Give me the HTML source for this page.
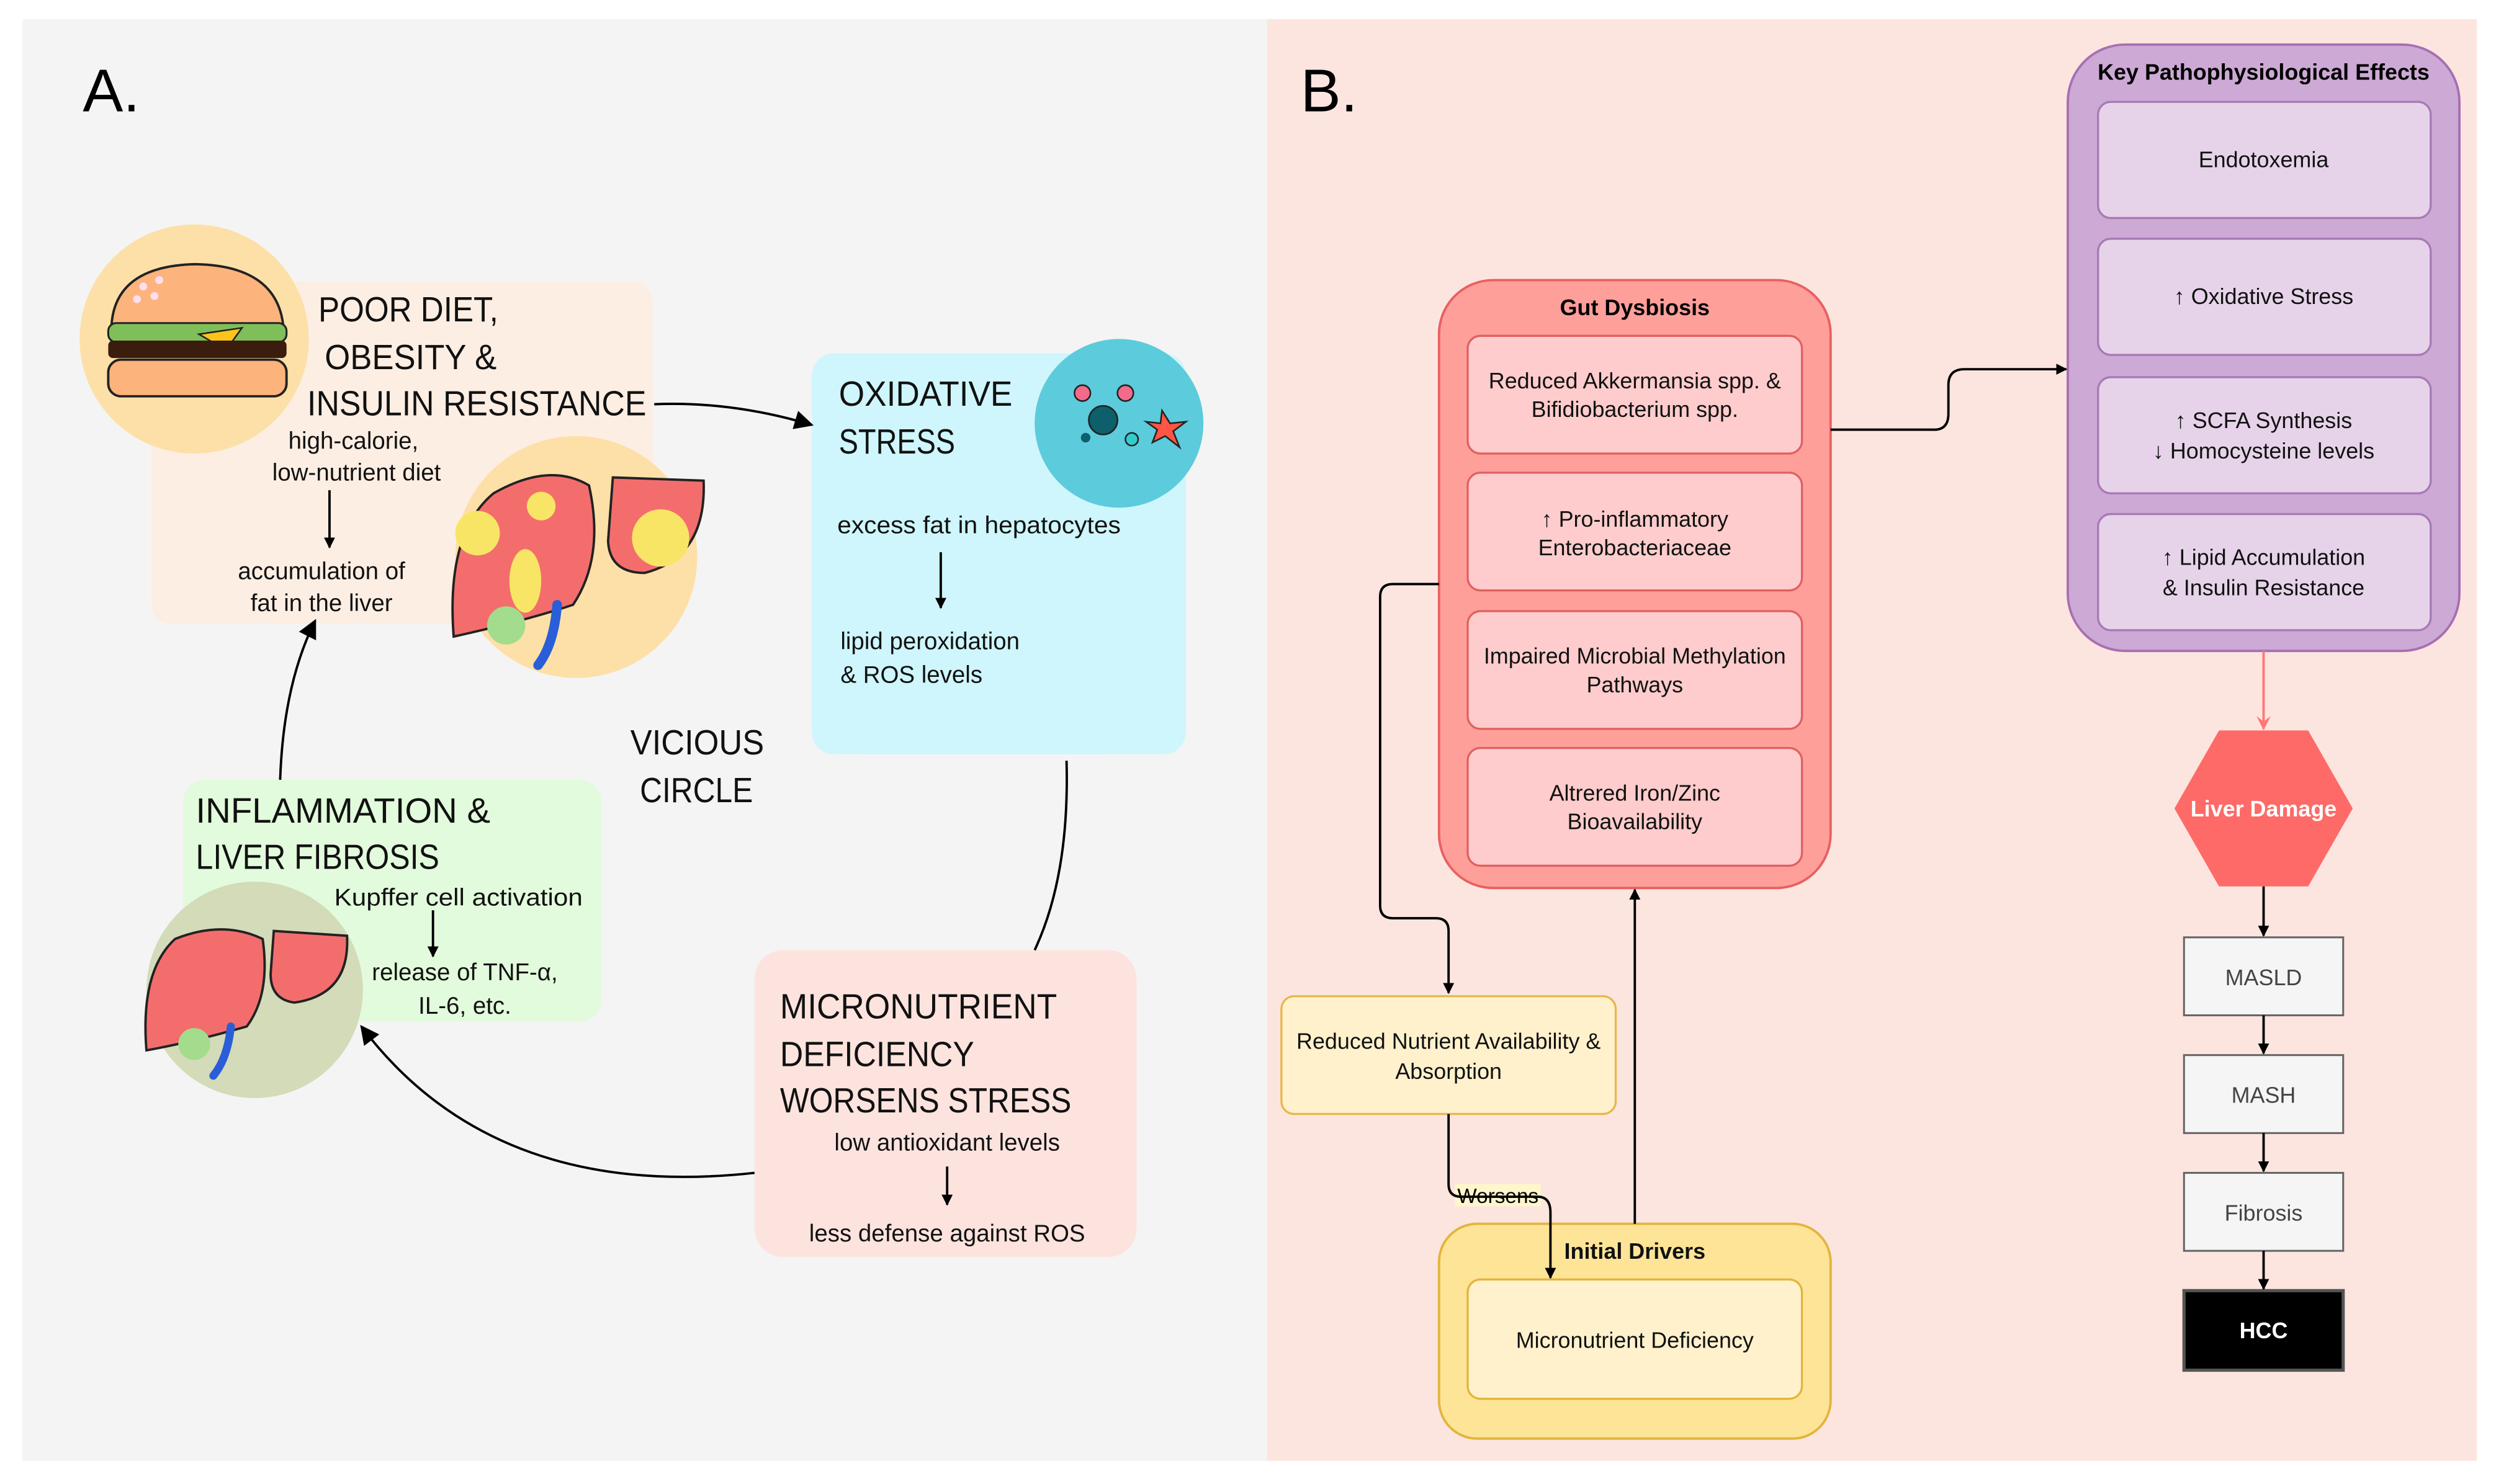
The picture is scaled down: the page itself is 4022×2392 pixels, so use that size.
<!DOCTYPE html>
<html><head><meta charset="utf-8"><style>html,body{margin:0;padding:0;background:#fff}svg{display:block}</style></head>
<body>
<svg width="4022" height="2392" viewBox="0 0 1568 932.5" xmlns="http://www.w3.org/2000/svg" font-family="Liberation Sans, sans-serif">
<defs>
<marker id="ar" viewBox="0 0 10 10" refX="9" refY="5" markerWidth="7" markerHeight="7" orient="auto-start-reverse" markerUnits="userSpaceOnUse"><path d="M0,0 L10,5 L0,10 z" fill="#000"/></marker>
<marker id="ar2" viewBox="0 0 10 10" refX="9" refY="5" markerWidth="12" markerHeight="12" orient="auto" markerUnits="userSpaceOnUse"><path d="M0,0 L10,5 L0,10 z" fill="#000"/></marker>
<marker id="arr" viewBox="0 0 10 10" refX="9" refY="5" markerWidth="9" markerHeight="9" orient="auto" markerUnits="userSpaceOnUse"><path d="M0,0 L10,5 L0,10 L4,5 z" fill="#f77"/></marker>
</defs>
<rect width="1568" height="932.5" fill="#fff"/>
<rect x="14" y="12" width="782" height="906" fill="#f4f4f4"/>
<rect x="796" y="12" width="760" height="906" fill="#fde5df"/>
<text x="52" y="70" font-size="38">A.</text>
<text x="817" y="70" font-size="38">B.</text>

<!-- Panel A -->
<rect x="95" y="177" width="315" height="215" rx="12" fill="#fdeee3"/>
<rect x="510" y="222" width="235" height="252" rx="14" fill="#cef6fc"/>
<rect x="115" y="490" width="263" height="152" rx="14" fill="#e2fbdc"/>
<rect x="474" y="597" width="240" height="193" rx="18" fill="#fde3de"/>

<circle cx="122" cy="213" r="72" fill="#fde0a8"/>
<path d="M70,205 Q72,167 123,166 Q174,167 178,205 Z" fill="#fdb37c" stroke="#222" stroke-width="1.5"/>
<rect x="68" y="203" width="112" height="12" rx="5" fill="#7fbf5a" stroke="#222" stroke-width="1.2"/>
<path d="M125,210 L152,206 L142,220 Z" fill="#fcc41b" stroke="#222"/>
<rect x="68" y="214" width="112" height="11" rx="3" fill="#3b1d0e"/>
<rect x="68" y="226" width="112" height="23" rx="8" fill="#fdb37c" stroke="#222" stroke-width="1.5"/>
<circle cx="90" cy="180" r="2.5" fill="#fde"/><circle cx="100" cy="176" r="2.5" fill="#fde"/><circle cx="86" cy="188" r="2.5" fill="#fde"/><circle cx="97" cy="186" r="2.5" fill="#fde"/>

<circle cx="362" cy="350" r="76" fill="#fde0a8"/>
<path d="M285,400 Q280,335 310,310 Q345,290 370,305 Q380,350 360,380 Q330,390 285,400 Z" fill="#f46d6d" stroke="#222" stroke-width="1.5"/>
<path d="M385,300 L442,302 Q444,350 405,360 Q383,360 382,340 Z" fill="#f46d6d" stroke="#222" stroke-width="1.5"/>
<circle cx="415" cy="338" r="18" fill="#f8e565"/>
<circle cx="300" cy="335" r="14" fill="#f8e565"/><circle cx="340" cy="318" r="9" fill="#f8e565"/><ellipse cx="330" cy="365" rx="10" ry="20" fill="#f8e565"/>
<circle cx="318" cy="393" r="12" fill="#a2dc8c"/>
<path d="M350,380 Q348,405 338,418" stroke="#2a5ed8" stroke-width="6" fill="none" stroke-linecap="round"/>

<circle cx="703" cy="266" r="53" fill="#5ccbdc"/>
<circle cx="693" cy="264" r="9" fill="#0c5f6b" stroke="#222"/>
<circle cx="680" cy="247" r="5" fill="#f26b8b" stroke="#222"/><circle cx="707" cy="247" r="5" fill="#f26b8b" stroke="#222"/>
<circle cx="682" cy="275" r="3" fill="#0c5f6b"/><circle cx="711" cy="276" r="4" fill="#3cc" stroke="#222"/>
<path d="M730,258 L735,266 L745,265 L737,271 L741,281 L732,274 L724,278 L727,270 L720,265 L729,266 Z" fill="#f54" stroke="#222" stroke-width="1"/>

<circle cx="160" cy="622" r="68" fill="#d3dbb8"/>
<path d="M92,660 Q88,610 110,590 Q140,578 165,590 Q170,625 155,645 Q120,655 92,660 Z" fill="#f46d6d" stroke="#222" stroke-width="1.5"/>
<path d="M172,585 L218,588 Q220,625 185,630 Q170,628 170,612 Z" fill="#f46d6d" stroke="#222" stroke-width="1.5"/>
<circle cx="122" cy="656" r="10" fill="#a2dc8c"/>
<path d="M145,645 Q143,665 134,676" stroke="#2a5ed8" stroke-width="5" fill="none" stroke-linecap="round"/>

<g font-size="22" fill="#111" lengthAdjust="spacingAndGlyphs">
<text x="200" y="202" textLength="113" lengthAdjust="spacingAndGlyphs">POOR DIET,</text>
<text x="204" y="232" textLength="108" lengthAdjust="spacingAndGlyphs">OBESITY &amp;</text>
<text x="193" y="261" textLength="213" lengthAdjust="spacingAndGlyphs">INSULIN RESISTANCE</text>
<text x="527" y="255" textLength="109" lengthAdjust="spacingAndGlyphs">OXIDATIVE</text>
<text x="527" y="285" textLength="73" lengthAdjust="spacingAndGlyphs">STRESS</text>
<text x="396" y="474" textLength="84" lengthAdjust="spacingAndGlyphs">VICIOUS</text>
<text x="402" y="504" textLength="71" lengthAdjust="spacingAndGlyphs">CIRCLE</text>
<text x="123" y="517" textLength="185" lengthAdjust="spacingAndGlyphs">INFLAMMATION &amp;</text>
<text x="123" y="546" textLength="153" lengthAdjust="spacingAndGlyphs">LIVER FIBROSIS</text>
<text x="490" y="640" textLength="174" lengthAdjust="spacingAndGlyphs">MICRONUTRIENT</text>
<text x="490" y="670" textLength="122" lengthAdjust="spacingAndGlyphs">DEFICIENCY</text>
<text x="490" y="699" textLength="183" lengthAdjust="spacingAndGlyphs">WORSENS STRESS</text>
</g>
<g font-size="15" fill="#111">
<text x="222" y="282" text-anchor="middle">high-calorie,</text>
<text x="224" y="302" text-anchor="middle">low-nutrient diet</text>
<text x="202" y="364" text-anchor="middle">accumulation of</text>
<text x="202" y="384" text-anchor="middle">fat in the liver</text>
<text x="526" y="335" textLength="178" lengthAdjust="spacingAndGlyphs">excess fat in hepatocytes</text>
<text x="528" y="408">lipid peroxidation</text>
<text x="528" y="429">&amp; ROS levels</text>
<text x="210" y="569" textLength="156" lengthAdjust="spacingAndGlyphs">Kupffer cell activation</text>
<text x="292" y="616" text-anchor="middle">release of TNF-α,</text>
<text x="292" y="637" text-anchor="middle">IL-6, etc.</text>
<text x="595" y="723" text-anchor="middle">low antioxidant levels</text>
<text x="595" y="780" text-anchor="middle">less defense against ROS</text>
</g>
<g stroke="#000" stroke-width="1.5" fill="none">
<line x1="207" y1="308" x2="207" y2="344" marker-end="url(#ar)"/>
<line x1="591" y1="347" x2="591" y2="382" marker-end="url(#ar)"/>
<line x1="272" y1="572" x2="272" y2="601" marker-end="url(#ar)"/>
<line x1="595" y1="733" x2="595" y2="757" marker-end="url(#ar)"/>
<path d="M411,254 Q460,252 510,267" marker-end="url(#ar2)"/>
<path d="M670,478 Q672,550 650,597"/>
<path d="M474,737 Q310,755 227,645" marker-end="url(#ar2)"/>
<path d="M176,490 Q178,430 198,390" marker-end="url(#ar2)"/>
</g>

<!-- Panel B -->
<rect x="904" y="176" width="246" height="382" rx="34" fill="#fe9f9a" stroke="#e86060" stroke-width="1.5"/>
<text x="1027" y="198" font-size="14" font-weight="bold" text-anchor="middle">Gut Dysbiosis</text>
<g fill="#fecccc" stroke="#e06060" stroke-width="1.3">
<rect x="922" y="211" width="210" height="74" rx="8"/>
<rect x="922" y="297" width="210" height="74" rx="8"/>
<rect x="922" y="384" width="210" height="74" rx="8"/>
<rect x="922" y="470" width="210" height="74" rx="8"/>
</g>
<rect x="1299" y="28" width="246" height="381" rx="36" fill="#cda9d5" stroke="#a66fb3" stroke-width="1.5"/>
<text x="1422" y="50" font-size="14" font-weight="bold" text-anchor="middle">Key Pathophysiological Effects</text>
<g fill="#e6d3e9" stroke="#a67ab5" stroke-width="1.3">
<rect x="1318" y="64" width="209" height="73" rx="8"/>
<rect x="1318" y="150" width="209" height="73" rx="8"/>
<rect x="1318" y="237" width="209" height="73" rx="8"/>
<rect x="1318" y="323" width="209" height="73" rx="8"/>
</g>
<rect x="805" y="626" width="210" height="74" rx="8" fill="#fff1cc" stroke="#e6b84a" stroke-width="1.3"/>
<rect x="904" y="769" width="246" height="135" rx="24" fill="#fee497" stroke="#e2b53c" stroke-width="1.5"/>
<rect x="922" y="804" width="210" height="75" rx="8" fill="#fff1cc" stroke="#e2b53c" stroke-width="1.3"/>
<polygon points="1394,459 1450,459 1478,508 1450,557 1394,557 1366,508" fill="#fe6a67"/>
<g stroke="#666" stroke-width="1.2" fill="#f5f5f5">
<rect x="1372" y="589" width="100" height="49"/>
<rect x="1372" y="663" width="100" height="49"/>
<rect x="1372" y="737" width="100" height="49"/>
</g>
<rect x="1372" y="811" width="100" height="50" fill="#000" stroke="#555" stroke-width="2"/>

<g font-size="14" fill="#111" text-anchor="middle">
<text x="1027" y="244">Reduced Akkermansia spp. &amp;</text>
<text x="1027" y="262">Bifidiobacterium spp.</text>
<text x="1027" y="331">↑ Pro-inflammatory</text>
<text x="1027" y="349">Enterobacteriaceae</text>
<text x="1027" y="417">Impaired Microbial Methylation</text>
<text x="1027" y="435">Pathways</text>
<text x="1027" y="503">Altrered Iron/Zinc</text>
<text x="1027" y="521">Bioavailability</text>
<text x="1422" y="105">Endotoxemia</text>
<text x="1422" y="191">↑ Oxidative Stress</text>
<text x="1422" y="269">↑ SCFA Synthesis</text>
<text x="1422" y="288">↓ Homocysteine levels</text>
<text x="1422" y="355">↑ Lipid Accumulation</text>
<text x="1422" y="374">&amp; Insulin Resistance</text>
<text x="910" y="659">Reduced Nutrient Availability &amp;</text>
<text x="910" y="678">Absorption</text>
<text x="1027" y="791" font-weight="bold">Initial Drivers</text>
<text x="1027" y="847">Micronutrient Deficiency</text>
<text x="1422" y="513" fill="#fff" font-weight="bold">Liver Damage</text>
<text x="1422" y="619" fill="#444">MASLD</text>
<text x="1422" y="693" fill="#444">MASH</text>
<text x="1422" y="767" fill="#444">Fibrosis</text>
<text x="1422" y="841" fill="#fff" font-weight="bold">HCC</text>
</g>
<rect x="914" y="744" width="54" height="14" fill="#fff6cc"/>
<text x="941" y="756" font-size="13" text-anchor="middle">Worsens</text>

<g stroke="#000" stroke-width="1.5" fill="none">
<path d="M1150,270 L1215,270 Q1224,270 1224,260 L1224,242 Q1224,232 1234,232 L1298,232" marker-end="url(#ar)"/>
<path d="M904,367 L875,367 Q867,367 867,375 L867,569 Q867,577 875,577 L902,577 Q910,577 910,585 L910,624" marker-end="url(#ar)"/>
<path d="M910,700 L910,744 Q910,752 918,752 L966,752 Q974,752 974,762 L974,803" marker-end="url(#ar)"/>
<path d="M1027,769 L1027,559" marker-end="url(#ar)"/>
<path d="M1422,557 L1422,588" marker-end="url(#ar)"/>
<path d="M1422,638 L1422,662" marker-end="url(#ar)"/>
<path d="M1422,712 L1422,736" marker-end="url(#ar)"/>
<path d="M1422,786 L1422,810" marker-end="url(#ar)"/>
</g>
<path d="M1422,409 L1422,458" stroke="#f77" stroke-width="1.5" fill="none" marker-end="url(#arr)"/>
</svg>
</body></html>
